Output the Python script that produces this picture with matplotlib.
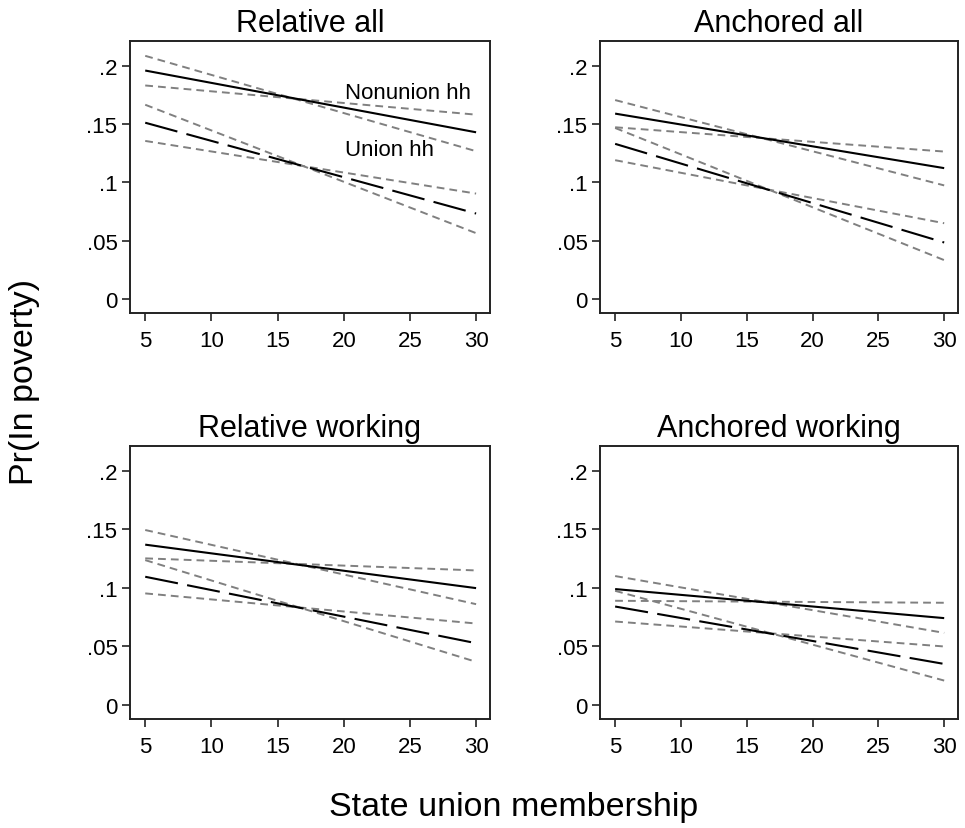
import matplotlib
matplotlib.use("Agg")
import matplotlib.pyplot as plt

plt.rcParams['font.family'] = ['Liberation Sans', 'DejaVu Sans']

# x positions of the predictions (state union membership, %)
x = [5, 30]

titles = ["Relative all", "Anchored all", "Relative working", "Anchored working"]

# predicted Pr(in poverty) and the two CI bounds, read at x = 5 and x = 30
nonunion = [[0.1957, 0.1428], [0.1588, 0.1121], [0.1368, 0.0997], [0.0989, 0.0741]]
nonunion_ci1 = [[0.2083, 0.1266], [0.1704, 0.0973], [0.1493, 0.0860], [0.1100, 0.0615]]
nonunion_ci2 = [[0.1829, 0.1579], [0.1471, 0.1263], [0.1251, 0.1148], [0.0889, 0.0872]]

union = [[0.1510, 0.0732], [0.1329, 0.0484], [0.1094, 0.0527], [0.0840, 0.0350]]
union_ci1 = [[0.1664, 0.0564], [0.1465, 0.0333], [0.1236, 0.0368], [0.0974, 0.0208]]
union_ci2 = [[0.1354, 0.0903], [0.1189, 0.0649], [0.0952, 0.0695], [0.0712, 0.0499]]

yticks = [0, 0.05, 0.1, 0.15, 0.2]
ytick_labels = ["0", ".05", ".1", ".15", ".2"]
xticks = [5, 10, 15, 20, 25, 30]

W, H = 965, 829
fig = plt.figure(figsize=(W / 100, H / 100), dpi=100)

# panel boxes in pixels: (left, top, right, bottom)
boxes = [(130, 42, 490, 314), (600, 42, 958, 314),
         (130, 447, 490, 720), (600, 447, 958, 720)]

gray = '#808080'
for i, (l, t, r, b) in enumerate(boxes):
    ax = fig.add_axes([l / W, 1 - b / H, (r - l) / W, (b - t) / H])

    ax.plot(x, nonunion_ci1[i], color=gray, lw=1.4, dashes=(4, 2.6))
    ax.plot(x, nonunion_ci2[i], color=gray, lw=1.4, dashes=(4, 2.6))
    ax.plot(x, union_ci1[i], color=gray, lw=1.4, dashes=(4, 2.6))
    ax.plot(x, union_ci2[i], color=gray, lw=1.4, dashes=(4, 2.6))
    ax.plot(x, nonunion[i], color='black', lw=1.5, solid_capstyle='butt')
    ax.plot(x, union[i], color='black', lw=1.5, dashes=(16, 4.5))

    ax.set_xlim(3.85, 31.05)
    ax.set_ylim(-0.012, 0.221)
    ax.set_xticks(xticks)
    ax.set_yticks(yticks)
    ax.set_yticklabels(ytick_labels)
    ax.tick_params(axis='both', direction='out', length=6, width=1.2,
                   labelsize=16, color='#222222')
    ax.tick_params(axis='x', pad=6)
    ax.tick_params(axis='y', pad=3)
    for s in ax.spines.values():
        s.set_linewidth(1.4)
        s.set_color('#222222')
    ax.set_title(titles[i], fontsize=22, pad=7)

    if i == 0:
        ax.text(20.1, 0.1726, "Nonunion hh", fontsize=16, ha='left', va='baseline')
        ax.text(20.1, 0.1231, "Union hh", fontsize=16, ha='left', va='baseline')

fig.text(514 / W, 1 - 808 / H, "State union membership", fontsize=24.5,
         ha='center', va='center')
fig.text(25 / W, 1 - 382 / H, "Pr(In poverty)", fontsize=24.5,
         ha='center', va='center', rotation=90)

fig.savefig("out.png", dpi=100, facecolor='white')
